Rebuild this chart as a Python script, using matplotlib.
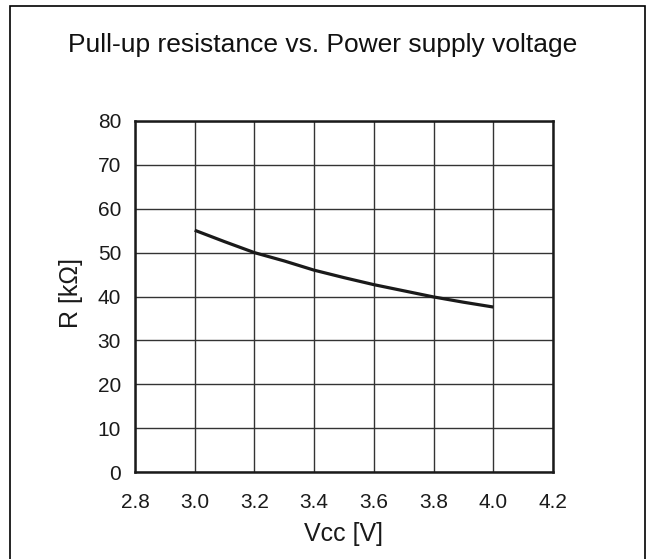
import matplotlib
matplotlib.use("Agg")
import matplotlib.pyplot as plt
from matplotlib.patches import Rectangle

plt.rcParams['font.family'] = ['Liberation Sans', 'DejaVu Sans']

# Pull-up resistance measured across supply voltage
vcc = [3.0, 3.1, 3.2, 3.3, 3.4, 3.5, 3.6, 3.7, 3.8, 3.9, 4.0]
resistance = [55.1, 52.5, 50.0, 48.1, 46.0, 44.3, 42.7, 41.3, 39.9, 38.7, 37.6]

x_ticks = [2.8, 3.0, 3.2, 3.4, 3.6, 3.8, 4.0, 4.2]
y_ticks = [0, 10, 20, 30, 40, 50, 60, 70, 80]

fig = plt.figure(figsize=(6.47, 5.59), dpi=100)
ax = fig.add_axes([135 / 647, 1 - 472 / 559, 418 / 647, 351 / 559])

ax.plot(vcc, resistance, color='#1a1a1a', linewidth=2.3, solid_capstyle='butt')

ax.set_xlim(2.8, 4.2)
ax.set_ylim(0, 80)
ax.set_xticks(x_ticks)
ax.set_xticklabels([f"{v:.1f}" for v in x_ticks])
ax.set_yticks(y_ticks)
ax.grid(True, color='#333333', linewidth=1.0)
ax.set_axisbelow(True)
ax.tick_params(axis='both', length=0, labelsize=15, colors='#1a1a1a')
ax.tick_params(axis='x', pad=15)
ax.tick_params(axis='y', pad=10)
for s in ax.spines.values():
    s.set_linewidth(1.8)
    s.set_color('#1a1a1a')

ax.set_xlabel('Vcc [V]', fontsize=18, labelpad=7, color='#1a1a1a')
ax.set_ylabel('R [kΩ]', fontsize=18, color='#1a1a1a')
ax.yaxis.set_label_coords(-0.124, 0.51)

fig.text(323 / 647, 1 - 45 / 559, 'Pull-up resistance vs. Power supply voltage',
         ha='center', va='center', fontsize=19, color='#111111')

# Outer frame around the whole chart
fig.patches.append(Rectangle((10 / 647, -0.05), 635 / 647, 1.05 - 6 / 559,
                             transform=fig.transFigure, fill=False,
                             edgecolor='black', linewidth=1.2))

fig.savefig('out.png', dpi=100)
